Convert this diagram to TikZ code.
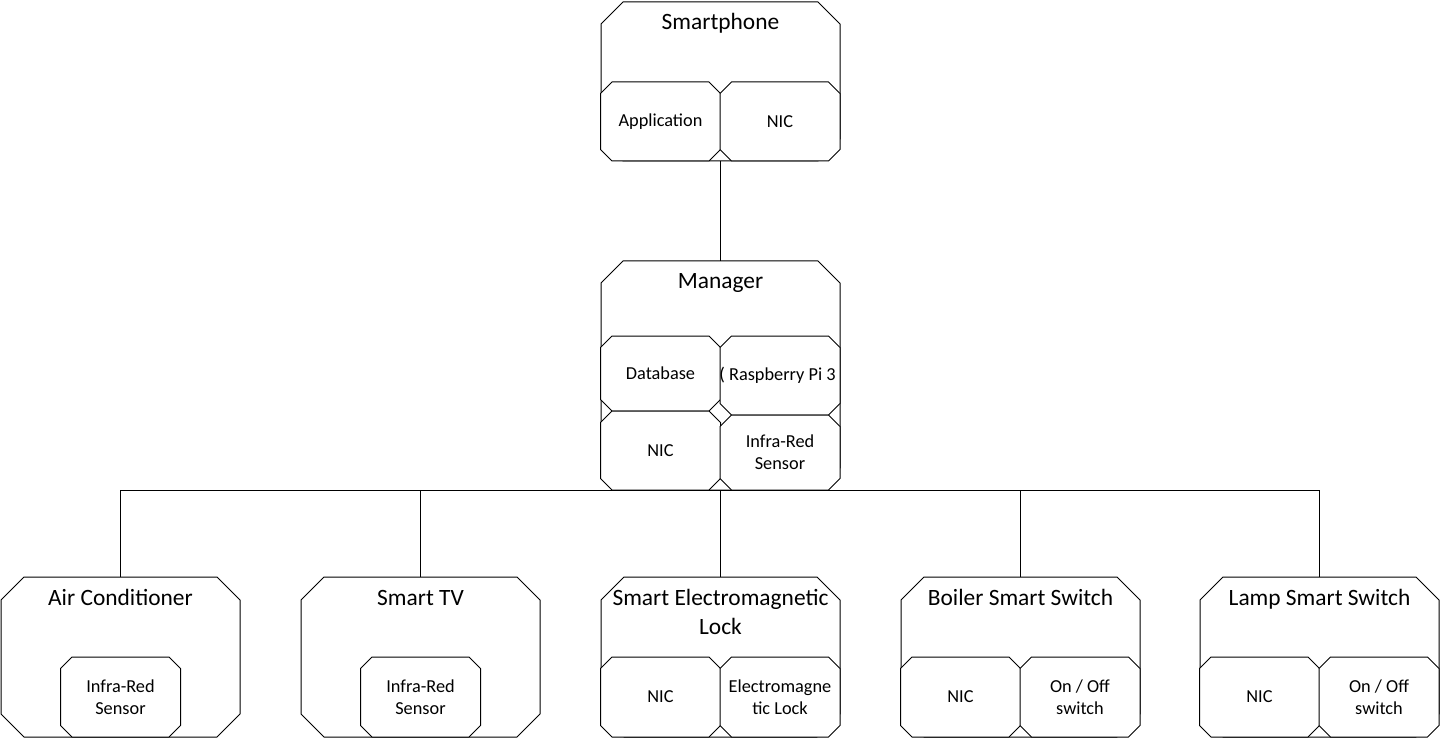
\documentclass[tikz,border=0pt]{standalone}
\usepackage{fontspec}
\setmainfont{Carlito}
\usetikzlibrary{positioning, backgrounds}

\begin{document}
\begin{tikzpicture}
    [
        x=1pt, y=-1pt,
        basic/.style = {rectangle, inner sep=0pt, outer sep=0pt, align=center},
        device/.style = {basic, minimum width=239pt},
        part/.style = {basic, minimum width=120pt, minimum height=79pt, font=\fontsize{18.3}{22}\selectfont},
        title/.style = {anchor=base, inner sep=0pt, align=center, font=\fontsize{23.4}{29}\selectfont},
        octo/.style = {draw, line width=1pt, fill=white, line join=miter},
        link/.style = {draw, line width=1pt}
    ]
    \useasboundingbox (0,0) rectangle (1441,738);

    \node [device, minimum height=159pt] (sp) at (720.5,81.5) {};
    \node [title] (sptitle) at ([yshift=-28pt]sp.north) {Smartphone};
    \node [part] (app) at (660.5,121.5) {Application};
    \node [part] (spnic) at (780,121.5) {NIC};

    \node [device, minimum height=229pt] (mgr) at (720.5,375.5) {};
    \node [title] (mgrtitle) at ([yshift=-28pt]mgr.north) {Manager};
    \node [part, minimum height=75pt] (db) at (660.5,373.5) {Database};
    \node [part] (rpi) at (780,375.5) {\hspace*{-5pt}( Raspberry Pi 3};
    \node [part] (mgrnic) at (660.5,450.5) {NIC};
    \node [part, minimum height=75pt] (ir) at (780,452.5) {Infra-Red\\Sensor};

    \node [device, minimum height=160pt] (ac) at (120.5,657) {};
    \node [title] (actitle) at ([yshift=-28pt]ac.north) {Air Conditioner};
    \node [part, minimum height=80pt] (acir) at (120.5,697) {Infra-Red\\Sensor};

    \node [device, minimum height=160pt] (tv) at (420.5,657) {};
    \node [title] (tvtitle) at ([yshift=-28pt]tv.north) {Smart TV};
    \node [part, minimum height=80pt] (tvir) at (420.5,697) {Infra-Red\\Sensor};

    \node [device, minimum height=160pt] (lock) at (720.5,657) {};
    \node [title] (locktitle) at ([yshift=-57pt]lock.north) {Smart Electromagnetic\\Lock};
    \node [part, minimum height=80pt] (locknic) at (660.5,697) {NIC};
    \node [part, minimum height=80pt] (lockel) at (780,697) {Electromagne\\tic Lock};

    \node [device, minimum height=160pt] (boiler) at (1020.5,657) {};
    \node [title] (boilertitle) at ([yshift=-28pt]boiler.north) {Boiler Smart Switch};
    \node [part, minimum height=80pt] (boilernic) at (960.5,697) {NIC};
    \node [part, minimum height=80pt] (boilersw) at (1080,697) {On / Off\\switch};

    \node [device, minimum height=160pt] (lamp) at (1319.5,657) {};
    \node [title] (lamptitle) at ([yshift=-28pt]lamp.north) {Lamp Smart Switch};
    \node [part, minimum height=80pt] (lampnic) at (1259.5,697) {NIC};
    \node [part, minimum height=80pt] (lampsw) at (1379,697) {On / Off\\switch};

    % chamfered outlines, outer boxes first
    \begin{scope}[on background layer]
        \foreach \n/\c in {sp/22, app/11.5, spnic/11.5, mgr/22, db/11.5, rpi/11.5, mgrnic/11.5, ir/11.5,
                ac/23, acir/11.5, tv/23, tvir/11.5, lock/23, locknic/11.5, lockel/11.5,
                boiler/23, boilernic/11.5, boilersw/11.5, lamp/23, lampnic/11.5, lampsw/11.5}
            \draw [octo] ([xshift=\c pt]\n.north west) -- ([xshift=-\c pt]\n.north east)
                -- ([yshift=-\c pt]\n.north east) -- ([yshift=\c pt]\n.south east)
                -- ([xshift=-\c pt]\n.south east) -- ([xshift=\c pt]\n.south west)
                -- ([yshift=\c pt]\n.south west) -- ([yshift=-\c pt]\n.north west) -- cycle;
    \end{scope}

    \draw [link] (sp) -- (mgr);
    \draw [link] (ac.north |- mgr.south) -- (lamp.north |- mgr.south);
    \foreach \d in {ac, tv, lock, boiler, lamp} \draw [link] (mgr.south -| \d.north) -- (\d.north);

\end{tikzpicture}
\end{document}
